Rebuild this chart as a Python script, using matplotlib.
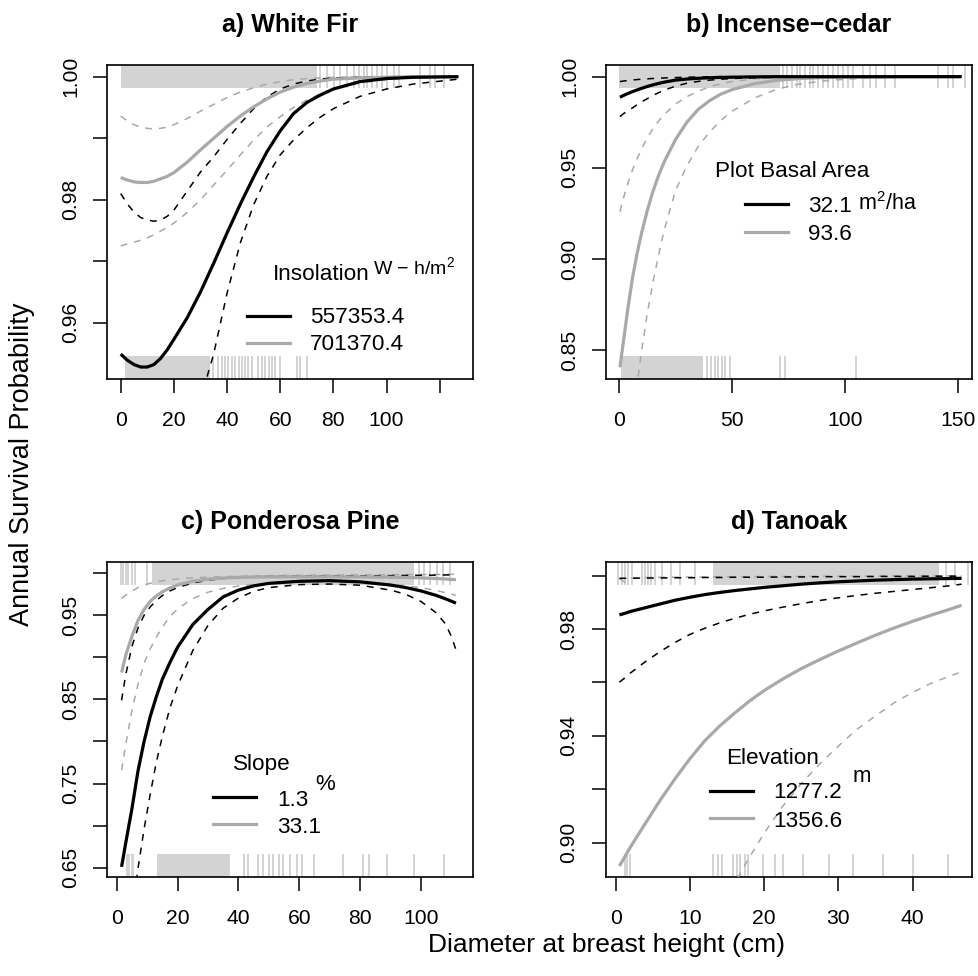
import matplotlib
matplotlib.use('Agg')
import matplotlib.pyplot as plt
from matplotlib.lines import Line2D

plt.rcParams['font.family'] = ['Liberation Sans', 'DejaVu Sans']
plt.rcParams['mathtext.default'] = 'regular'

# ---------------- data ----------------
# Panel a) White Fir
a_x = [0, 2.5, 5, 7.5, 10, 12.5, 15, 17.5, 20, 25, 30, 35, 40, 45, 50, 55, 60, 65, 70, 75, 80, 90, 100, 110, 127]
a_fit1 = [0.9549, 0.9539, 0.9532, 0.9528, 0.9528, 0.9532, 0.9542, 0.9556, 0.9573, 0.9608, 0.9650, 0.9697,
          0.9746, 0.9793, 0.9837, 0.9878, 0.9912, 0.9940, 0.9958, 0.9970, 0.9980, 0.9992, 0.9997, 0.9999, 1.0]
a_hi1 = [0.9810, 0.9793, 0.9780, 0.9771, 0.9767, 0.9765, 0.9767, 0.9773, 0.9783, 0.9814, 0.9845, 0.9870,
         0.9898, 0.9924, 0.9948, 0.9967, 0.9980, 0.9988, 0.9993, 0.9996, 0.9998, 0.9999, 1.0, 1.0, 1.0]
a_lo1 = [0.925, 0.9255, 0.926, 0.9265, 0.927, 0.928, 0.929, 0.931, 0.933, 0.939, 0.9475, 0.9550,
         0.9648, 0.9730, 0.9792, 0.9838, 0.9873, 0.9897, 0.9917, 0.9934, 0.9948, 0.9968, 0.9980, 0.9988, 0.9996]
a_fit2 = [0.9836, 0.9832, 0.9829, 0.9828, 0.9828, 0.9830, 0.9834, 0.9838, 0.9844, 0.9861, 0.9881, 0.9900,
          0.9919, 0.9936, 0.9951, 0.9964, 0.9975, 0.9983, 0.9989, 0.9993, 0.9996, 0.9998, 0.9999, 1.0, 1.0]
a_hi2 = [0.9936, 0.9928, 0.9922, 0.9918, 0.9916, 0.9915, 0.9916, 0.9918, 0.9922, 0.9932, 0.9944, 0.9955,
         0.9966, 0.9975, 0.9982, 0.9988, 0.9992, 0.9995, 0.9997, 0.9998, 0.9999, 1.0, 1.0, 1.0, 1.0]
a_lo2 = [0.9725, 0.9728, 0.9731, 0.9734, 0.9738, 0.9743, 0.9749, 0.9755, 0.9762, 0.9779, 0.9800, 0.9824,
         0.9848, 0.9873, 0.9897, 0.9918, 0.9935, 0.9950, 0.9962, 0.9972, 0.9980, 0.9990, 0.9995, 0.9998, 1.0]
a_rug_top_spans = [(0, 74)]
a_rug_top = [75.1, 77.6, 80.1, 82.6, 85.2, 87.7, 89.5, 91.4, 92.7, 94.6, 96.5, 98.4, 100.3, 102.8,
             104.6, 112.6, 116.4, 118.3, 121.4]
a_rug_bot_spans = [(1.5, 33.6)]
a_rug_bot = [34.8, 36.7, 38, 39.2, 40.5, 41.8, 43, 44.3, 45.5, 46.8, 48, 49.3, 51.8, 53.1, 54.3,
             55.6, 56.9, 58.1, 60, 66.3, 67.5, 70.1]
a_levels = ['557353.4', '701370.4']

# Panel b) Incense-cedar
b_x = [0.4, 2, 4, 6, 8, 10, 12.5, 15, 17.5, 20, 25, 30, 35, 40, 45, 50, 60, 70, 80, 90, 100, 115, 130, 151.5]
b_fit1 = [0.9887, 0.9897, 0.9908, 0.9918, 0.9927, 0.9936, 0.9946, 0.9955, 0.9963, 0.9970, 0.9981,
          0.9987, 0.9991, 0.9994, 0.9996, 0.9997, 0.9999, 1.0, 1.0, 1.0, 1.0, 1.0, 1.0, 1.0]
b_hi1 = [0.9973, 0.9976, 0.9979, 0.9982, 0.9984, 0.9986, 0.9988, 0.9990, 0.9991, 0.9993, 0.9995,
         0.9997, 0.9998, 0.9999, 1.0, 1.0, 1.0, 1.0, 1.0, 1.0, 1.0, 1.0, 1.0, 1.0]
b_lo1 = [0.9781, 0.9797, 0.9813, 0.9829, 0.9846, 0.9862, 0.9879, 0.9897, 0.9912, 0.9926, 0.9948,
         0.9964, 0.9974, 0.9981, 0.9986, 0.9990, 0.9994, 0.9997, 0.9998, 0.9999, 0.9999, 1.0, 1.0, 1.0]
b_fit2 = [0.8405, 0.8550, 0.8735, 0.8898, 0.9030, 0.9143, 0.9265, 0.9370, 0.9458, 0.9533, 0.9655,
          0.9750, 0.9820, 0.9868, 0.9904, 0.9929, 0.9962, 0.9980, 0.9990, 0.9995, 0.9997, 0.9999, 1.0, 1.0]
b_hi2 = [0.9259, 0.9335, 0.9418, 0.9490, 0.9550, 0.9604, 0.9664, 0.9715, 0.9756, 0.9792, 0.9850,
         0.9890, 0.9920, 0.9944, 0.9961, 0.9973, 0.9988, 0.9995, 0.9998, 0.9999, 1.0, 1.0, 1.0, 1.0]
b_lo2 = [0.700, 0.730, 0.770, 0.805, 0.831, 0.8497, 0.8700, 0.8872, 0.9020, 0.9160, 0.9375,
         0.9510, 0.9617, 0.9695, 0.9760, 0.9810, 0.9884, 0.9932, 0.9960, 0.9976, 0.9986, 0.9994, 0.9998, 1.0]
b_rug_top_spans = [(0, 71)]
b_rug_top = [72.6, 74.1, 76.3, 78.5, 80, 82.2, 84.4, 85.9, 88.1, 90.3, 92.5, 94.7, 96.9, 99.1, 101.3,
             103.5, 107.9, 110.9, 113.8, 117.5, 121.9, 141, 145.5, 147.7, 152.9]
b_rug_bot_spans = [(0.7, 37.2)]
b_rug_bot = [38.7, 40.9, 42.4, 43.9, 45.4, 46.8, 49, 71.1, 73.3, 105]
b_levels = ['32.1', '93.6']

# Panel c) Ponderosa Pine
c_x = [1.6, 3, 5, 7, 9, 11, 13, 15, 17.5, 20, 25, 30, 35, 40, 45, 50, 60, 70, 80, 90, 95, 100, 105, 108, 110, 111.5]
c_fit1 = [0.651, 0.680, 0.720, 0.765, 0.800, 0.8295, 0.853, 0.874, 0.894, 0.912, 0.939, 0.957, 0.9720,
          0.9800, 0.9850, 0.9880, 0.9905, 0.9912, 0.9898, 0.9860, 0.9830, 0.9790, 0.9737, 0.9697, 0.9668, 0.9645]
c_hi1 = [0.849, 0.880, 0.913, 0.935, 0.950, 0.960, 0.9675, 0.9735, 0.979, 0.9830, 0.9885, 0.9918, 0.9938,
         0.9950, 0.9957, 0.9962, 0.9966, 0.9968, 0.9970, 0.9972, 0.9974, 0.9976, 0.9978, 0.998, 0.998, 0.998]
c_lo1 = [0.50, 0.54, 0.595, 0.649, 0.696, 0.737, 0.775, 0.806, 0.840, 0.866, 0.908, 0.938, 0.9585,
         0.9705, 0.9785, 0.9830, 0.9865, 0.9872, 0.9858, 0.9800, 0.9750, 0.9665, 0.9530, 0.9400, 0.9250, 0.9090]
c_fit2 = [0.882, 0.903, 0.925, 0.944, 0.957, 0.9665, 0.9730, 0.9780, 0.9825, 0.9860, 0.9905, 0.9930, 0.9943,
          0.9951, 0.9955, 0.9957, 0.9958, 0.9958, 0.9957, 0.9953, 0.9950, 0.9945, 0.9938, 0.9932, 0.9927, 0.9923]
c_hi2 = [0.9703, 0.9740, 0.9785, 0.9830, 0.9860, 0.9880, 0.9897, 0.9910, 0.9922, 0.9932, 0.9945, 0.9953,
         0.9960, 0.9965, 0.9969, 0.9972, 0.9976, 0.9979, 0.9981, 0.9983, 0.9984, 0.9985, 0.9986, 0.9987, 0.9988, 0.9988]
c_lo2 = [0.766, 0.797, 0.837, 0.868, 0.893, 0.910, 0.924, 0.936, 0.9484, 0.9575, 0.9700, 0.9775, 0.9820,
         0.9848, 0.9868, 0.9882, 0.9896, 0.9900, 0.9893, 0.9870, 0.9852, 0.9828, 0.9795, 0.9770, 0.9752, 0.9738]
c_rug_top_spans = [(11.6, 97.6)]
c_rug_top = [1.3, 2.2, 3.1, 3.8, 4.9, 6, 9.9, 99.2, 100.9, 103.1, 105.3, 107.4, 109.6]
c_rug_bot_spans = [(13.2, 37.3)]
c_rug_bot = [3.3, 4.1, 4.9, 5.5, 41.7, 43.3, 46.6, 48.2, 49.9, 51.5, 53.2, 54.8, 57, 59.2, 60.8, 64.7,
             74.5, 81.1, 82.8, 88.8, 97.6, 107.5]
c_levels = ['1.3', '33.1']

# Panel d) Tanoak
d_x = [0.5, 1.25, 2, 4, 6, 8, 10, 12, 14, 16, 18, 20, 22.5, 25, 27.5, 30, 32.5, 35, 37.5, 40, 42.5, 45, 46.6]
d_fit1 = [0.9853, 0.9859, 0.9866, 0.9880, 0.9894, 0.9908, 0.9919, 0.9929, 0.9937, 0.9944, 0.9950, 0.9956,
          0.9962, 0.9968, 0.9973, 0.9977, 0.9980, 0.9983, 0.9985, 0.9987, 0.9988, 0.9989, 0.9990]
d_hi1 = [0.9990, 0.9990, 0.9990, 0.9991, 0.9991, 0.9992, 0.9992, 0.9993, 0.9993, 0.9994, 0.9994, 0.9994,
         0.9995, 0.9995, 0.9996, 0.9996, 0.9996, 0.9997, 0.9997, 0.9997, 0.9998, 0.9998, 0.9998]
d_lo1 = [0.9601, 0.9618, 0.9636, 0.9678, 0.9716, 0.9750, 0.9780, 0.9803, 0.9823, 0.9840, 0.9855, 0.9868,
         0.9882, 0.9895, 0.9907, 0.9917, 0.9926, 0.9934, 0.9941, 0.9948, 0.9955, 0.9962, 0.9968]
d_fit2 = [0.8913, 0.8949, 0.8985, 0.9073, 0.9160, 0.9240, 0.9315, 0.9382, 0.9437, 0.9485, 0.9530, 0.9570,
          0.9613, 0.9652, 0.9686, 0.9718, 0.9748, 0.9777, 0.9804, 0.9829, 0.9852, 0.9874, 0.9889]
d_hi2 = [0.9988, 0.9975, 0.9991, 0.9993, 0.9994, 0.9994, 0.9995, 0.9995, 0.9996, 0.9996, 0.9996, 0.9997,
         0.9997, 0.9997, 0.9998, 0.9998, 0.9998, 0.9998, 0.9999, 0.9999, 0.9999, 0.9999, 0.9999]
d_lo2 = [0.780, 0.785, 0.790, 0.805, 0.820, 0.836, 0.851, 0.863, 0.875, 0.8848, 0.8945, 0.9036,
         0.9137, 0.9222, 0.9296, 0.9362, 0.9425, 0.9475, 0.9524, 0.9563, 0.9597, 0.9624, 0.9640]
d_rug_top_spans = [(13.1, 43.6)]
d_rug_top = [0.35, 0.8, 1.25, 1.7, 2.15, 3.5, 3.9, 4.4, 4.8, 5.3, 6.2, 7.5, 8.7, 10.7, 44.5, 45.7, 47.5]
d_rug_bot_spans = []
d_rug_bot = [1.25, 1.5, 1.9, 13.1, 13.8, 14.3, 15.8, 16.3, 16.7, 17.4, 17.8, 19.9, 21.4, 22.6, 25.2,
             28.8, 32, 36, 40, 44.8]
d_levels = ['1277.2', '1356.6']

titles = ['a) White Fir', 'b) Incense\u2212cedar', 'c) Ponderosa Pine', 'd) Tanoak']
legend_titles = ['Insolation', 'Plot Basal Area', 'Slope', 'Elevation']
units = ['W \u2212 h/m$^{2}$', 'm$^{2}$/ha', '%', 'm']

a_xticks = [0, 20, 40, 60, 80, 100, 120]
a_xlabels = ['0', '20', '40', '60', '80', '100', '']
a_yticks = [0.96, 0.97, 0.98, 0.99, 1.00]
a_ylabels = ['0.96', '', '0.98', '', '1.00']
b_xticks = [0, 50, 100, 150]
b_xlabels = ['0', '50', '100', '150']
b_yticks = [0.85, 0.90, 0.95, 1.00]
b_ylabels = ['0.85', '0.90', '0.95', '1.00']
c_xticks = [0, 20, 40, 60, 80, 100]
c_xlabels = ['0', '20', '40', '60', '80', '100']
c_yticks = [0.65, 0.70, 0.75, 0.80, 0.85, 0.90, 0.95, 1.00]
c_ylabels = ['0.65', '', '0.75', '', '0.85', '', '0.95', '']
d_xticks = [0, 10, 20, 30, 40]
d_xlabels = ['0', '10', '20', '30', '40']
d_yticks = [0.90, 0.92, 0.94, 0.96, 0.98, 1.00]
d_ylabels = ['0.90', '', '0.94', '', '0.98', '']

# ---------------- layout / style ----------------
W, H = 979, 976
fig = plt.figure(figsize=(W / 100, H / 100), dpi=100)


def fx(px):
    return px / W


def fy(py):
    return 1 - py / H


BLACK = '#000000'
GREY = '#A9A9A9'
RUG = '#D3D3D3'
FS_TICK = 15.2
FS_LEG = 16.2
RUG_H = 0.073

panels = [
    dict(box=(107.3, 65, 473.3, 379), xlim=(-5.04, 132.6), ylim=(0.95085, 1.0019),
         x=a_x, curves=(a_fit1, a_lo1, a_hi1, a_fit2, a_lo2, a_hi2),
         rt_s=a_rug_top_spans, rt=a_rug_top, rb_s=a_rug_bot_spans, rb=a_rug_bot,
         xt=a_xticks, xl=a_xlabels, yt=a_yticks, yl=a_ylabels, lev=a_levels,
         leg=dict(title=(273, 279.5), unit=(373, 274, 14), line=(247, 290, 316, 343.3),
                  text=(310, 323.5, 350.5))),
    dict(box=(606, 65, 972, 379), xlim=(-5.75, 156.1), ylim=(0.8341, 1.0064),
         x=b_x, curves=(b_fit1, b_lo1, b_hi1, b_fit2, b_lo2, b_hi2),
         rt_s=b_rug_top_spans, rt=b_rug_top, rb_s=b_rug_bot_spans, rb=b_rug_bot,
         xt=b_xticks, xl=b_xlabels, yt=b_yticks, yl=b_ylabels, lev=b_levels,
         leg=dict(title=(715, 177), unit=(858, 210.5, 15.5), line=(745, 788, 204.3, 232.3),
                  text=(808, 212.5, 240))),
    dict(box=(107.3, 562, 473.3, 877), xlim=(-3.09, 117.2), ylim=(0.6389, 1.0134),
         x=c_x, curves=(c_fit1, c_lo1, c_hi1, c_fit2, c_lo2, c_hi2),
         rt_s=c_rug_top_spans, rt=c_rug_top, rb_s=c_rug_bot_spans, rb=c_rug_bot,
         xt=c_xticks, xl=c_xlabels, yt=c_yticks, yl=c_ylabels, lev=c_levels,
         leg=dict(title=(233, 770), unit=(315, 790, 16), line=(213, 256, 796.7, 824),
                  text=(277, 806, 833.3))),
    dict(box=(605.7, 562, 972, 877), xlim=(-1.35, 48.0), ylim=(0.8872, 1.0051),
         x=d_x, curves=(d_fit1, d_lo1, d_hi1, d_fit2, d_lo2, d_hi2),
         rt_s=d_rug_top_spans, rt=d_rug_top, rb_s=d_rug_bot_spans, rb=d_rug_bot,
         xt=d_xticks, xl=d_xlabels, yt=d_yticks, yl=d_ylabels, lev=d_levels,
         leg=dict(title=(726, 764.5), unit=(853, 781.5, 16), line=(710, 753, 790.7, 818.3),
                  text=(773, 798.3, 826.7))),
]

for i, p in enumerate(panels):
    l, t, r, b = p['box']
    ax = fig.add_axes([fx(l), fy(b), (r - l) / W, (b - t) / H])
    ax.set_xlim(*p['xlim'])
    ax.set_ylim(*p['ylim'])
    tr = ax.get_xaxis_transform()
    # rugs
    for s, e in p['rt_s']:
        ax.axvspan(s, e, ymin=1 - RUG_H, ymax=1, color=RUG, lw=0, zorder=1)
    ax.vlines(p['rt'], 1 - RUG_H, 1, transform=tr, color=RUG, lw=1.4, zorder=1)
    for s, e in p['rb_s']:
        ax.axvspan(s, e, ymin=0, ymax=RUG_H, color=RUG, lw=0, zorder=1)
    ax.vlines(p['rb'], 0, RUG_H, transform=tr, color=RUG, lw=1.4, zorder=1)
    # curves
    fit1, lo1, hi1, fit2, lo2, hi2 = p['curves']
    xs = p['x']
    for yv in (lo2, hi2):
        ax.plot(xs, yv, color=GREY, lw=1.1, dashes=(4.5, 4.5), zorder=3)
    for yv in (lo1, hi1):
        ax.plot(xs, yv, color=BLACK, lw=1.1, dashes=(4.5, 4.5), zorder=3)
    ax.plot(xs, fit2, color=GREY, lw=2.3, zorder=4, solid_capstyle='butt', solid_joinstyle='round')
    ax.plot(xs, fit1, color=BLACK, lw=2.3, zorder=4, solid_capstyle='butt', solid_joinstyle='round')
    # axes styling
    ax.set_xticks(p['xt'])
    ax.set_xticklabels(p['xl'])
    ax.set_yticks(p['yt'])
    ax.set_yticklabels(p['yl'], rotation=90, va='center')
    ax.tick_params(axis='both', direction='out', length=10, width=1.1, labelsize=FS_TICK, color='black')
    ax.tick_params(axis='x', pad=13)
    ax.tick_params(axis='y', pad=9.5)
    for sp in ax.spines.values():
        sp.set_linewidth(1.2)
    # title
    fig.text(fx((l + r) / 2), fy(t - 33), titles[i], ha='center', va='baseline',
             fontsize=18, fontweight='bold')
    # legend
    lg = p['leg']
    fig.text(fx(lg['title'][0]), fy(lg['title'][1]), legend_titles[i], fontsize=FS_LEG,
             ha='left', va='baseline')
    fig.text(fx(lg['unit'][0]), fy(lg['unit'][1]), units[i], fontsize=lg['unit'][2],
             ha='left', va='baseline')
    x1, x2, y1, y2 = lg['line']
    fig.add_artist(Line2D([fx(x1), fx(x2)], [fy(y1), fy(y1)], color=BLACK, lw=2.3,
                          transform=fig.transFigure))
    fig.add_artist(Line2D([fx(x1), fx(x2)], [fy(y2), fy(y2)], color=GREY, lw=2.3,
                          transform=fig.transFigure))
    tx, ty1, ty2 = lg['text']
    fig.text(fx(tx), fy(ty1), p['lev'][0], fontsize=FS_LEG, ha='left', va='baseline')
    fig.text(fx(tx), fy(ty2), p['lev'][1], fontsize=FS_LEG, ha='left', va='baseline')

fig.text(fx(22), fy(464), 'Annual Survival Probability', rotation=90, ha='center',
         va='center', fontsize=19.5)
fig.text(fx(607), fy(945), 'Diameter at breast height (cm)', ha='center', va='center',
         fontsize=19)

fig.savefig('out.png', dpi=100)
